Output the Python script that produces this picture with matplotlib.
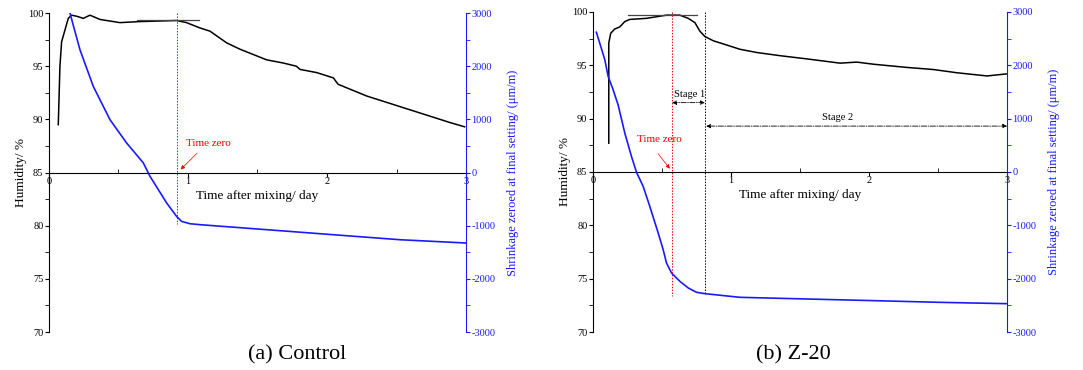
import matplotlib
matplotlib.use("Agg")
import numpy as np
from matplotlib import pyplot as plt
from matplotlib.ticker import MultipleLocator

plt.rcParams['font.family'] = ['Liberation Serif', 'DejaVu Serif']
plt.rcParams['axes.unicode_minus'] = False

# ---- (a) Control ----
a_hum_t = [0.067, 0.079, 0.091, 0.115, 0.139, 0.163, 0.20, 0.247, 0.295, 0.367, 0.51, 0.655,
           0.918, 0.99, 1.086, 1.158, 1.278, 1.374, 1.47, 1.566, 1.686, 1.78, 1.806, 1.926,
           2.046, 2.08, 2.285, 2.525, 2.717, 2.885, 2.99]
a_hum = [89.5, 95.0, 97.3, 98.4, 99.5, 99.8, 99.7, 99.5, 99.8, 99.4, 99.1, 99.2,
         99.3, 99.1, 98.6, 98.3, 97.2, 96.6, 96.1, 95.6, 95.3, 95.0, 94.7, 94.4,
         93.9, 93.3, 92.2, 91.2, 90.4, 89.7, 89.3]
a_shr_t = [0.151, 0.223, 0.319, 0.439, 0.559, 0.679, 0.727, 0.847, 0.918, 0.954, 1.014,
           1.086, 1.566, 2.046, 2.525, 3.0]
a_shr = [3000, 2310, 1620, 994, 555, 180, -72, -574, -825, -919, -963,
         -981, -1075, -1170, -1264, -1326]
a_time_zero = 0.923
a_plateau = (0.63, 1.08, 99.37)

# ---- (b) Z-20 ----
b_hum_t = [0.114, 0.114, 0.128, 0.157, 0.194, 0.23, 0.266, 0.387, 0.532, 0.629, 0.69, 0.738,
           0.774, 0.81, 0.871, 0.968, 1.065, 1.186, 1.355, 1.549, 1.79, 1.911, 2.032, 2.274,
           2.468, 2.637, 2.855, 3.0]
b_hum = [87.7, 97.1, 98.0, 98.4, 98.6, 99.1, 99.3, 99.4, 99.7, 99.7, 99.4, 99.0,
         98.2, 97.7, 97.3, 96.9, 96.5, 96.2, 95.9, 95.6, 95.2, 95.3, 95.1, 94.8,
         94.6, 94.3, 94.0, 94.2]
b_shr_t = [0.024, 0.048, 0.085, 0.109, 0.145, 0.181, 0.23, 0.278, 0.315, 0.363, 0.411,
           0.472, 0.508, 0.532, 0.569, 0.629, 0.69, 0.75, 0.81, 1.065, 1.549, 2.032, 2.516, 3.0]
b_shr = [2619, 2419, 2106, 1794, 1544, 1263, 731, 294, -6, -269, -644,
         -1144, -1456, -1706, -1894, -2050, -2175, -2256, -2281, -2350, -2381, -2412, -2444, -2469]
b_time_zero = 0.573
b_stage_split = 0.81
b_plateau = (0.254, 0.755, 99.75)

BLUE = '#1a1aff'
DOTS = (0, (1.5, 1.5))


def style_axes(ax, ax2):
    ax.set_xlim(0, 3)
    ax.set_ylim(70, 100)
    ax2.set_ylim(-3000, 3000)
    ax.spines['top'].set_visible(False)
    ax.spines['right'].set_visible(False)
    ax.spines['bottom'].set_position(('data', 85))
    for s in ['top', 'left', 'bottom']:
        ax2.spines[s].set_visible(False)
    ax2.spines['right'].set_color(BLUE)

    ax.xaxis.set_major_locator(MultipleLocator(1))
    ax.xaxis.set_minor_locator(MultipleLocator(0.5))
    ax.tick_params(axis='x', which='major', direction='out', length=3, labelsize=7.5, pad=0)
    ax.tick_params(axis='x', which='minor', direction='in', length=3)
    ax.yaxis.set_major_locator(MultipleLocator(5))
    ax.yaxis.set_minor_locator(MultipleLocator(2.5))
    ax.tick_params(axis='y', which='both', direction='out', length=3, labelsize=7.5, pad=1)

    ax2.yaxis.set_major_locator(MultipleLocator(1000))
    ax2.yaxis.set_minor_locator(MultipleLocator(500))
    ax2.tick_params(axis='y', which='both', direction='out', length=3, labelsize=7.5, pad=1,
                    colors=BLUE)

    ax.set_ylabel('Humidity/ %', fontsize=9.5, labelpad=1)
    ax2.set_ylabel('Shrinkage zeroed at final setting/ (μm/m)', fontsize=9, color=BLUE,
                   labelpad=8)
    ax.text(1.5, 82.8, 'Time after mixing/ day', ha='center', va='center', fontsize=9.5)


fig = plt.figure(figsize=(10.83, 3.70), dpi=100)

# panel (a)
ax_a = fig.add_axes([0.0452, 0.1027, 0.3851, 0.862])
ax_a2 = ax_a.twinx()
style_axes(ax_a, ax_a2)
ax_a.plot(a_hum_t, a_hum, color='black', lw=1.1)
ax_a.plot(a_plateau[:2], [a_plateau[2]] * 2, color='#444444', lw=0.9)
ax_a2.plot(a_shr_t, a_shr, color=BLUE, lw=1.2)
ax_a.plot([a_time_zero, a_time_zero], [100, 80.2], color='red', ls=DOTS, lw=0.7)
ax_a.annotate('', xy=(a_time_zero + 0.01, 85.1), xytext=(1.08, 87.0),
              arrowprops=dict(arrowstyle='-|>', color='red', lw=0.5, mutation_scale=6))
ax_a.text(1.146, 87.7, 'Time zero', color='red', fontsize=8, ha='center', va='center')
fig.text(0.274, 0.04, '(a) Control', ha='center', va='center', fontsize=16)

# panel (b)
ax_b = fig.add_axes([0.5476, 0.1027, 0.3823, 0.865])
ax_b2 = ax_b.twinx()
style_axes(ax_b, ax_b2)
ax_b.plot(b_hum_t, b_hum, color='black', lw=1.1)
ax_b.plot(b_plateau[:2], [b_plateau[2]] * 2, color='#444444', lw=0.9)
ax_b2.plot(b_shr_t, b_shr, color=BLUE, lw=1.2)
ax_b.plot([b_time_zero, b_time_zero], [100, 73.4], color='red', ls=DOTS, lw=0.7)
ax_b.plot([b_stage_split, b_stage_split], [100, 73.5], color='black', ls=DOTS, lw=0.7)
ax_b.annotate('', xy=(b_time_zero - 0.004, 85.1), xytext=(0.46, 86.9),
              arrowprops=dict(arrowstyle='-|>', color='red', lw=0.5, mutation_scale=6))
ax_b.text(0.479, 88.0, 'Time zero', color='red', fontsize=8, ha='center', va='center')
ax_b.annotate('', xy=(b_time_zero, 91.5), xytext=(b_stage_split, 91.5),
              arrowprops=dict(arrowstyle='<|-|>', color='black', lw=0.6, ls='-.',
                              mutation_scale=6, shrinkA=0, shrinkB=0))
ax_b.text(0.697, 92.3, 'Stage 1', fontsize=7.5, ha='center', va='center')
ax_b.annotate('', xy=(b_stage_split + 0.01, 89.3), xytext=(3.0, 89.3),
              arrowprops=dict(arrowstyle='<|-|>', color='black', lw=0.6, ls='-.',
                              mutation_scale=6, shrinkA=0, shrinkB=0))
ax_b.text(1.774, 90.1, 'Stage 2', fontsize=7.5, ha='center', va='center')
fig.text(0.733, 0.04, '(b) Z-20', ha='center', va='center', fontsize=16)

fig.savefig('out.png', dpi=100)
